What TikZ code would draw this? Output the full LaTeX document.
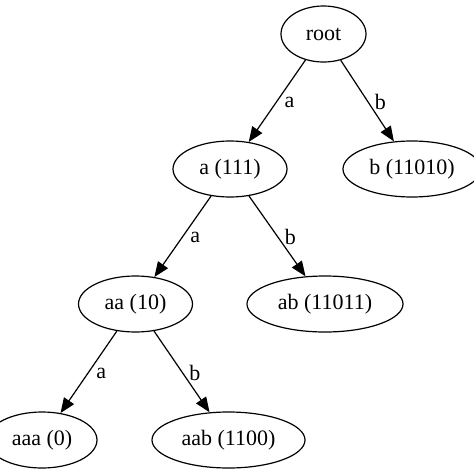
\documentclass[tikz,border=0pt]{standalone}
\usepackage{fontspec}
\setmainfont{Liberation Serif}
\usetikzlibrary{shapes.geometric,arrows.meta}
\begin{document}
\begin{tikzpicture}[x=1pt,y=-1pt,
  tnode/.style={draw,ellipse,line width=1.2pt,inner sep=0pt,minimum height=56pt,font=\fontsize{22}{26}\selectfont},
  tedge/.style={line width=1.2pt,-{Triangle[length=15pt,width=12pt]}},
  elab/.style={anchor=west,inner sep=0pt,xshift=7pt,yshift=-1pt,font=\fontsize{22}{26}\selectfont}]
\fill[white] (0,0) rectangle (474,474);
\useasboundingbox (0,0) rectangle (474,474);
\node[tnode,minimum width=85pt] (root) at (323.5,34) {root};
\node[tnode,minimum width=114pt] (a) at (230,169) {a (111)};
\node[tnode,minimum width=138pt] (b) at (412,169) {b (11010)};
\node[tnode,minimum width=114pt] (aa) at (135.5,304) {aa (10)};
\node[tnode,minimum width=156pt] (ab) at (325,304) {ab (11011)};
\node[tnode,minimum width=110pt] (aaa) at (42,440) {aaa (0)};
\node[tnode,minimum width=153pt] (aab) at (228.5,440) {aab (1100)};
\draw[tedge] (root) -- node[elab] {a} (a);
\draw[tedge] (root) -- node[elab] {b} (b);
\draw[tedge] (a) -- node[elab] {a} (aa);
\draw[tedge] (a) -- node[elab] {b} (ab);
\draw[tedge] (aa) -- node[elab] {a} (aaa);
\draw[tedge] (aa) -- node[elab] {b} (aab);
\end{tikzpicture}
\end{document}
